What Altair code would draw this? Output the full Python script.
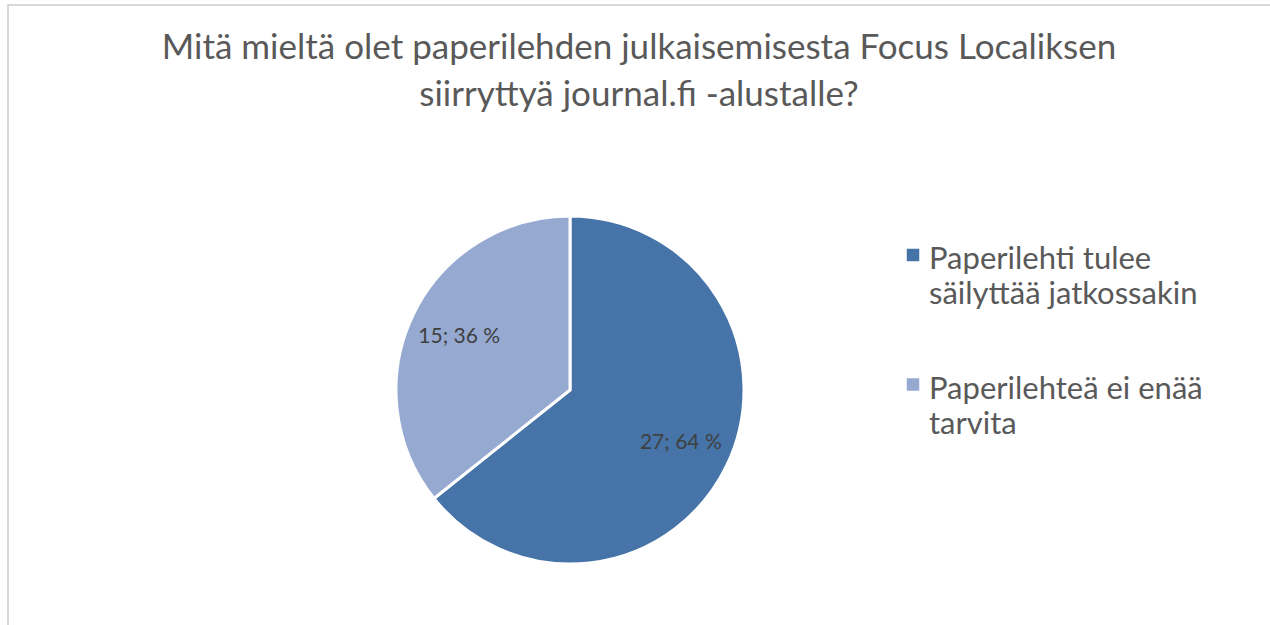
import altair as alt
import pandas as pd

categories = ["Paperilehti tulee säilyttää jatkossakin", "Paperilehteä ei enää tarvita"]
legend_lines = ["Paperilehti tulee\nsäilyttää jatkossakin", "Paperilehteä ei enää\ntarvita"]
counts = [27, 15]
percents = [64, 36]
colors = ["#4674A8", "#95A9D1"]
title_lines = ["Mitä mieltä olet paperilehden julkaisemisesta Focus Localiksen",
               "siirryttyä journal.fi -alustalle?"]

df = pd.DataFrame({"cat": categories, "count": counts, "pct": percents,
                   "order": [0, 1], "legend_text": legend_lines})
df["label"] = [f"{c}; {p} %" for c, p in zip(counts, percents)]

FONT = "Lato"
CX, CY, R = 570, 390, 174

color = alt.Color("cat:N", scale=alt.Scale(domain=categories, range=colors), legend=None)

base = alt.Chart(df).encode(
    theta=alt.Theta("count:Q", stack=True),
    order=alt.Order("order:Q"),
)

pie = base.mark_arc(radius=R, stroke="white", strokeWidth=3).encode(
    color=color, x=alt.value(CX), y=alt.value(CY))

labels = base.mark_text(radius=123, font=FONT, fontSize=21, color="#404040").encode(
    text="label:N", x=alt.value(CX), y=alt.value(CY))

leg_y = alt.Y("cat:N", scale=alt.Scale(domain=categories, range=[255, 384.5], padding=0),
              axis=None)

leg_sym = alt.Chart(df).mark_square(size=156, opacity=1).encode(
    x=alt.value(913), y=leg_y, color=color)

leg_txt = alt.Chart(df).mark_text(
    font=FONT, fontSize=31, color="#595959", align="left", baseline="alphabetic",
    lineBreak="\n", lineHeight=35, dy=14).encode(
    x=alt.value(929), y=leg_y, text="legend_text:N")

border = alt.Chart(pd.DataFrame({"a": [0]})).mark_rect(
    fill=None, stroke="#D9D9D9", strokeWidth=2).encode(
    x=alt.value(8), y=alt.value(5), x2=alt.value(1300), y2=alt.value(700))

title = alt.Chart(pd.DataFrame({"a": [0]})).mark_text(
    font=FONT, fontSize=35, color="#595959", align="center", baseline="alphabetic",
    lineHeight=47).encode(
    x=alt.value(639), y=alt.value(59), text=alt.value(title_lines))

chart = alt.layer(border, pie, labels, leg_sym, leg_txt, title).properties(
    width=1270, height=625, autosize=alt.AutoSizeParams(type="none"), padding=0
).configure_view(stroke=None)

chart.save("out.html", embed_options={"renderer": "svg", "actions": False})
